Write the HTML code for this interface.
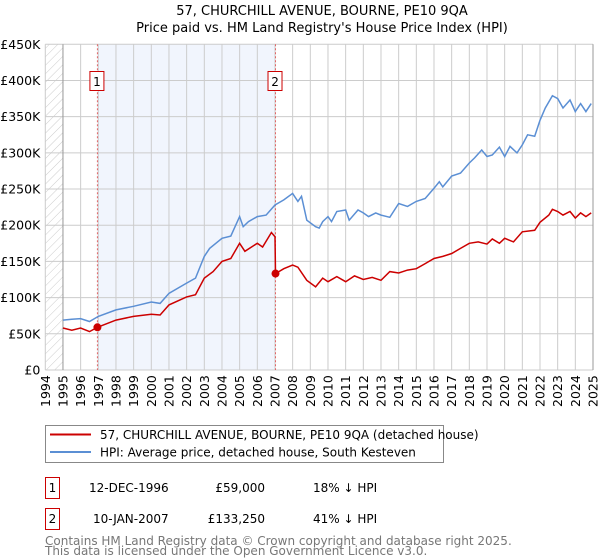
<!DOCTYPE html>
<html><head><meta charset="utf-8"><style>
body{margin:0;background:#fff;font-family:"Liberation Sans","DejaVu Sans",sans-serif}
svg{display:block}
</style></head><body>
<svg id="c" width="600" height="560" xmlns="http://www.w3.org/2000/svg" font-family="DejaVu Sans, Liberation Sans, sans-serif">
<defs><pattern id="hatch" width="6" height="6" patternUnits="userSpaceOnUse" patternTransform="rotate(45)"><line x1="0" y1="0" x2="0" y2="6" stroke="#ccc" stroke-width="1"/></pattern></defs>
<text x="322" y="15" text-anchor="middle" font-size="13">57, CHURCHILL AVENUE, BOURNE, PE10 9QA</text>
<text x="322" y="32" text-anchor="middle" font-size="13">Price paid vs. HM Land Registry's House Price Index (HPI)</text>
<g id="plot"></g>
<g>
<rect x="45.5" y="425.5" width="398" height="37" fill="#fff" stroke="#888"/>
<line x1="50" y1="434.5" x2="91" y2="434.5" stroke="#cc0000" stroke-width="2"/>
<text x="100" y="439" font-size="12">57, CHURCHILL AVENUE, BOURNE, PE10 9QA (detached house)</text>
<line x1="50" y1="452" x2="91" y2="452" stroke="#5b8fd4" stroke-width="2"/>
<text x="100" y="456.5" font-size="12">HPI: Average price, detached house, South Kesteven</text>
</g>
<g font-size="12">
<rect x="45.5" y="477.5" width="14" height="21" fill="#fff" stroke="#cc0000"/>
<text x="52.5" y="492" text-anchor="middle">1</text>
<text x="89" y="492">12-DEC-1996</text>
<text x="265" y="492" text-anchor="end">£59,000</text>
<text x="313" y="492">18% ↓ HPI</text>
<rect x="45.5" y="508.5" width="14" height="21" fill="#fff" stroke="#cc0000"/>
<text x="52.5" y="523" text-anchor="middle">2</text>
<text x="93" y="523">10-JAN-2007</text>
<text x="265" y="523" text-anchor="end">£133,250</text>
<text x="313" y="523">41% ↓ HPI</text>
</g>
<text x="45" y="545" font-size="12" fill="#777">Contains HM Land Registry data © Crown copyright and database right 2025.</text>
<text x="45" y="555" font-size="12" fill="#777">This data is licensed under the Open Government Licence v3.0.</text>
</svg>
<script>
const yTicks=[0,50,100,150,200,250,300,350,400,450];
const yTickLabels=["£0","£50K","£100K","£150K","£200K","£250K","£300K","£350K","£400K","£450K"];
const xYears=[1994,1995,1996,1997,1998,1999,2000,2001,2002,2003,2004,2005,2006,2007,2008,2009,2010,2011,2012,2013,2014,2015,2016,2017,2018,2019,2020,2021,2022,2023,2024,2025];
const hpiT=[1995,1995.5,1996,1996.5,1997,1998,1999,2000,2000.5,2001,2002,2002.5,2003,2003.3,2004,2004.5,2005,2005.2,2005.5,2006,2006.5,2007,2007.5,2008,2008.3,2008.5,2008.8,2009.3,2009.5,2009.7,2010,2010.2,2010.5,2011,2011.2,2011.7,2012,2012.3,2012.7,2013,2013.5,2014,2014.5,2015,2015.5,2016,2016.3,2016.5,2017,2017.5,2018,2018.3,2018.7,2019,2019.3,2019.7,2020,2020.3,2020.7,2021,2021.3,2021.7,2022,2022.3,2022.7,2023,2023.3,2023.7,2024,2024.3,2024.6,2024.9];
const hpiV=[69,70,71,67,74,83,88,94,92,106,120,127,157,168,182,185,212,198,205,212,214,228,235,244,233,240,207,198,196,205,212,205,219,221,207,221,217,212,217,214,211,230,226,233,237,251,260,253,268,272,286,293,304,295,297,308,295,309,300,311,325,323,345,362,379,375,362,373,357,368,357,368];
const ppT=[1995,1995.5,1996,1996.5,1996.95,1998,1999,2000,2000.5,2001,2002,2002.5,2003,2003.5,2004,2004.5,2005,2005.3,2006,2006.3,2006.8,2007.0,2007.03,2007.5,2008,2008.3,2008.8,2009.3,2009.7,2010,2010.5,2011,2011.5,2012,2012.5,2013,2013.5,2014,2014.5,2015,2015.5,2016,2016.5,2017,2017.5,2018,2018.5,2019,2019.3,2019.7,2020,2020.5,2021,2021.7,2022,2022.5,2022.7,2023,2023.3,2023.7,2024,2024.3,2024.6,2024.9];
const ppV=[58,55,58,53,59,69,74,77,76,90,101,104,127,136,150,154,175,164,175,170,190,184,133.25,140,145,142,124,115,127,122,129,122,130,125,128,124,136,134,138,140,147,154,157,161,168,175,177,174,181,175,182,177,191,193,204,214,222,219,214,219,210,217,212,217];
const saleT=[1996.95,2007.03];
const saleV=[59,133.25];
const saleLabels=["1","2"];
const X0=45.3,X1=593,Y0=370,Y1=44.3;
const x=t=>X0+(t-1994)/31*(X1-X0);
const y=v=>Y0-v/450*(Y0-Y1);
const NS="http://www.w3.org/2000/svg";
const g=document.getElementById('plot');
function mk(tag,at,parent){const e=document.createElementNS(NS,tag);for(const k in at)e.setAttribute(k,at[k]);(parent||g).appendChild(e);return e;}
let e;
e=mk('rect',{x:X0,y:Y1,width:x(1995)-X0,height:Y0-Y1,fill:'url(#hatch)'});


e=mk('rect',{x:x(saleT[0]),y:Y1,width:x(saleT[1])-x(saleT[0]),height:Y0-Y1,fill:'#eef3fc',opacity:0.8});


xYears.forEach(t=>{e=mk('line',{x1:x(t),x2:x(t),y1:Y1,y2:Y0,stroke:'#ccc','stroke-width':1});


e=mk('text',{x:0,y:0,transform:`translate(${x(t)+4.5},${Y0+37}) rotate(-90)`,'font-size':12.5});
e.textContent=t;

});
yTicks.forEach((v,i)=>{e=mk('line',{x1:X0,x2:X1,y1:y(v),y2:y(v),stroke:'#ccc','stroke-width':1});


e=mk('text',{x:X0-5,y:y(v)+4.5,'text-anchor':'end','font-size':12.5});
e.textContent=yTickLabels[i];

});
e=mk('line',{x1:x(1995),x2:x(1995),y1:Y1,y2:Y0,stroke:'#999','stroke-width':1});


e=mk('line',{x1:X1,x2:X1,y1:Y1,y2:Y0,stroke:'#999','stroke-width':1});


saleT.forEach((t,i)=>{e=mk('line',{x1:x(t),x2:x(t),y1:Y1,y2:Y0,stroke:'#e06666','stroke-width':1,'stroke-dasharray':'2,2'});


e=mk('rect',{x:x(t)-7.5,y:71.5,width:14,height:19,fill:'#fff',stroke:'#cc0000'});


e=mk('text',{x:x(t)-0.5,y:86,'text-anchor':'middle','font-size':12});
e.textContent=saleLabels[i];

});
const pts=(T,V)=>T.map((t,i)=>x(t).toFixed(1)+','+y(V[i]).toFixed(1)).join(' ');
e=mk('polyline',{points:pts(hpiT,hpiV),fill:'none',stroke:'#5b8fd4','stroke-width':1.5});


e=mk('polyline',{points:pts(ppT,ppV),fill:'none',stroke:'#cc0000','stroke-width':1.5});


saleT.forEach((t,i)=>{e=mk('circle',{cx:x(t),cy:y(saleV[i]),r:4,fill:'#cc0000'});

});
</script>
</body></html>
